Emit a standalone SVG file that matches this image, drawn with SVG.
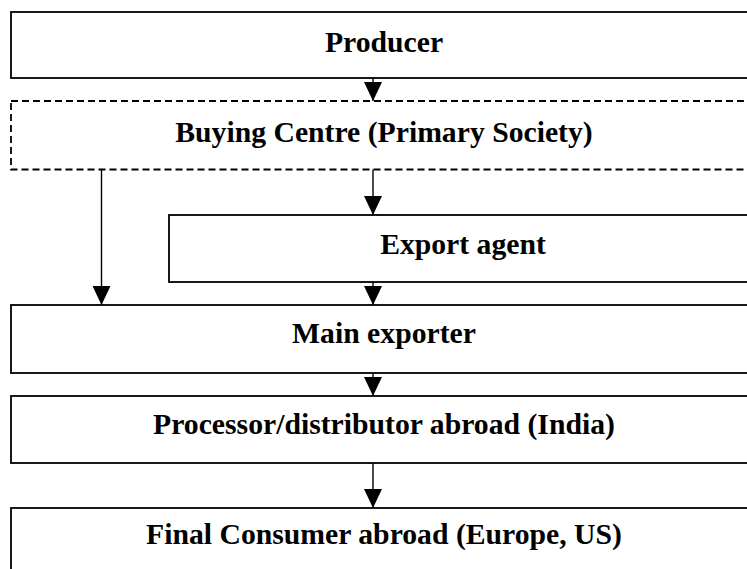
<svg xmlns="http://www.w3.org/2000/svg" width="747" height="569" viewBox="0 0 747 569">
<style>
.box{fill:#fff;stroke:#000;stroke-width:1.8}
.dash{stroke-dasharray:7 4}
.lbl{font-family:"Liberation Serif","Times New Roman",serif;font-weight:bold;font-size:29.7px;fill:#000;text-anchor:middle}
.con{stroke:#000;stroke-width:1.4;fill:none;marker-end:url(#ah)}
</style>
<defs>
<marker id="ah" markerUnits="userSpaceOnUse" viewBox="0 0 19 18" markerWidth="19" markerHeight="18" refX="19" refY="9" orient="auto">
<path d="M0,0 L19,9 L0,18 z" fill="#000"/>
</marker>
</defs>
<rect width="747" height="569" fill="#fff"/>
<g id="producer">
<rect class="box" x="11" y="12" width="750" height="66"/>
<text class="lbl" x="384" y="52">Producer</text>
</g>
<g id="buying-centre">
<rect class="box dash" x="11" y="101" width="750" height="68.5"/>
<text class="lbl" x="384" y="142">Buying Centre (Primary Society)</text>
</g>
<g id="export-agent">
<rect class="box" x="169" y="215" width="592" height="67"/>
<text class="lbl" x="463" y="254">Export agent</text>
</g>
<g id="main-exporter">
<rect class="box" x="11" y="305" width="750" height="68"/>
<text class="lbl" x="384" y="343">Main exporter</text>
</g>
<g id="processor">
<rect class="box" x="11" y="396" width="750" height="67"/>
<text class="lbl" x="384" y="434">Processor/distributor abroad (India)</text>
</g>
<g id="final-consumer">
<rect class="box" x="11" y="508" width="750" height="80"/>
<text class="lbl" x="384" y="544">Final Consumer abroad (Europe, US)</text>
</g>
<g id="connectors">
<line class="con" x1="373" y1="78" x2="373" y2="101"/>
<line class="con" x1="373" y1="169.5" x2="373" y2="215"/>
<line class="con" x1="101.5" y1="169.5" x2="101.5" y2="305"/>
<line class="con" x1="373" y1="282" x2="373" y2="305"/>
<line class="con" x1="373" y1="373" x2="373" y2="396"/>
<line class="con" x1="373" y1="463" x2="373" y2="508"/>
</g>
</svg>
